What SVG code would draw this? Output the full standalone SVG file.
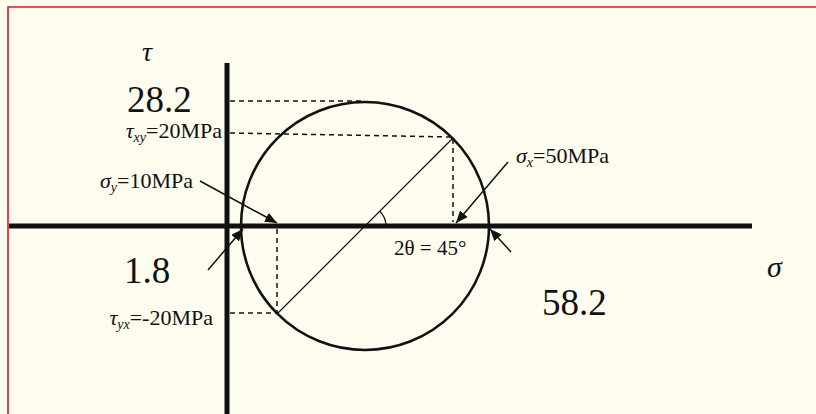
<svg xmlns="http://www.w3.org/2000/svg" width="816" height="414" viewBox="0 0 816 414">
<style>
text{font-family:"Liberation Serif","Times New Roman",serif;fill:#111}
.big{font-size:37px}
.mid{font-size:22px}
.gr{font-style:italic}
.sub{font-size:14px;font-style:italic}
.axis{stroke:#111;stroke-width:5;fill:none}
.dash{stroke:#111;stroke-width:1.5;stroke-dasharray:5,4;fill:none}
.thin{stroke:#111;stroke-width:1.2;fill:none}
.arr{stroke:#111;stroke-width:1.5;fill:none;marker-end:url(#ah)}
</style>
<defs>
<marker id="ah" markerUnits="userSpaceOnUse" markerWidth="14" markerHeight="12" refX="12" refY="5" orient="auto">
<path d="M0,0 L12,5 L0,10 z" fill="#111"/>
</marker>
</defs>
<rect x="0" y="0" width="816" height="414" fill="#fdfcef"/>
<path d="M8,414 L8,7 L816,7" fill="none" stroke="#e4161b" stroke-width="1.6"/>

<g id="axes">
<line class="axis" x1="227" y1="63" x2="227" y2="414"/>
<line class="axis" x1="9" y1="226" x2="752" y2="226"/>
</g>

<g id="mohr-circle">
<circle cx="365" cy="226" r="124" fill="none" stroke="#111" stroke-width="2.6"/>
<line class="thin" x1="453" y1="138" x2="277" y2="314"/>
<path class="thin" d="M379.8,211.2 A21,21 0 0 1 386,226"/>
</g>

<g id="guides">
<line class="dash" x1="230" y1="101" x2="363" y2="101"/>
<line class="dash" x1="230" y1="133" x2="452" y2="137"/>
<line class="dash" x1="453" y1="139" x2="453" y2="222"/>
<line class="dash" x1="277" y1="229" x2="277" y2="313"/>
<line class="dash" x1="230" y1="313" x2="277" y2="313"/>
</g>

<g id="connectors">
<line class="arr" x1="200" y1="181" x2="277" y2="223"/>
<line class="arr" x1="208" y1="270" x2="243" y2="229"/>
<line class="arr" x1="508" y1="162" x2="456" y2="223"/>
<line class="arr" x1="511" y1="252" x2="490" y2="229"/>
</g>

<g id="label-tau">
<text class="gr" x="142" y="61" font-size="28">τ</text>
</g>
<g id="label-sigma">
<text class="gr" x="767" y="277" font-size="30">σ</text>
</g>
<g id="label-28-2">
<text class="big" x="127" y="112">28.2</text>
</g>
<g id="label-1-8">
<text class="big" x="124" y="283">1.8</text>
</g>
<g id="label-58-2">
<text class="big" x="542" y="315">58.2</text>
</g>
<g id="label-txy">
<text class="mid" x="222" y="138" text-anchor="end"><tspan class="gr">τ</tspan><tspan class="sub" dy="4">xy</tspan><tspan dy="-4">=20MPa</tspan></text>
</g>
<g id="label-sy">
<text class="mid" x="193" y="188" text-anchor="end"><tspan class="gr">σ</tspan><tspan class="sub" dy="4">y</tspan><tspan dy="-4">=10MPa</tspan></text>
</g>
<g id="label-sx">
<text class="mid" x="516" y="163"><tspan class="gr">σ</tspan><tspan class="sub" dy="4">x</tspan><tspan dy="-4">=50MPa</tspan></text>
</g>
<g id="label-tyx">
<text class="mid" x="213" y="325" text-anchor="end"><tspan class="gr">τ</tspan><tspan class="sub" dy="4">yx</tspan><tspan dy="-4">=-20MPa</tspan></text>
</g>
<g id="label-angle">
<text x="394" y="255" font-size="21">2θ = 45°</text>
</g>
</svg>
